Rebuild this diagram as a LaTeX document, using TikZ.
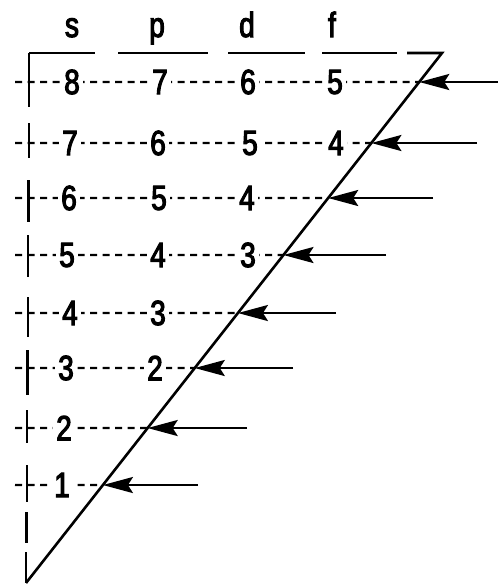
\documentclass[tikz,border=0pt]{standalone}
\usepackage{fontspec}
\setmainfont{Liberation Sans}
\newfontfamily\diagfont[FakeStretch=0.8,FakeBold=3]{Liberation Sans}
\usetikzlibrary{arrows.meta,calc}
\begin{document}
\begin{tikzpicture}[x=1pt,y=-1pt,
  num/.style={font=\diagfont\fontsize{35}{35}\selectfont, fill=white, inner sep=3pt, anchor=center},
  head/.style={font=\diagfont\fontsize{35}{35}\selectfont, inner sep=0pt, anchor=base},
  frame/.style={line width=2.6pt},
  rowline/.style={line width=2.2pt, dash pattern=on 7pt off 5.5pt},
  arr/.style={line width=2.4pt, -{Stealth[length=30pt,width=16pt,inset=5pt]}}]
\useasboundingbox (0,0) rectangle (498,587);
% frame points
\coordinate (TL) at (29,53);
\coordinate (top) at (442,53);
\coordinate (bot) at (26,583);
% header
\node[head] (hs) at (72,37) {s};
\node[head] (hp) at (157,37) {p};
\node[head] (hd) at (247,37) {d};
\node[head] (hf) at (332,37) {f};
\draw[frame] (TL) -- (95,53);
\draw[frame] (118,53) -- (208,53);
\draw[frame] (228,53) -- (305,53);
\draw[frame] (322,53) -- (397,53);
\draw[frame] (407,53) -- (top) -- (bot);
% rows
\foreach \r/\ry in {8/82,7/143,6/198,5/255,4/313,3/368,2/428,1/485}{
  \coordinate (L\r) at (15,\ry);
  \coordinate (R\r) at (500,\ry);
  \coordinate (T\r) at (intersection of top--bot and L\r--R\r);
  \draw[rowline] (L\r) -- (T\r);
}
% numbers
\node[num] (n8s) at (72,82) {8};
\node[num] (n8p) at (160,82) {7};
\node[num] (n8d) at (248,82) {6};
\node[num] (n8f) at (335,82) {5};
\node[num] (n7s) at (70,143) {7};
\node[num] (n7p) at (158,143) {6};
\node[num] (n7d) at (250,143) {5};
\node[num] (n7f) at (336,143) {4};
\node[num] (n6s) at (69,198) {6};
\node[num] (n6p) at (159,198) {5};
\node[num] (n6d) at (247,198) {4};
\node[num] (n5s) at (67,255) {5};
\node[num] (n5p) at (158,255) {4};
\node[num] (n5d) at (248,255) {3};
\node[num] (n4s) at (70,313) {4};
\node[num] (n4p) at (158,313) {3};
\node[num] (n3s) at (66,368) {3};
\node[num] (n3p) at (155,368) {2};
\node[num] (n2s) at (64,428) {2};
\node[num] (n1s) at (62,485) {1};
% left vertical, broken
\draw[frame] (TL) -- (29,107);
\draw[frame] (29,123) -- (29,158);
\draw[frame] (28.5,180) -- (28.5,222);
\draw[frame] (28,235) -- (28,277);
\draw[frame] (28,297) -- (28,337);
\draw[frame] (27.5,350) -- (27.5,395);
\draw[frame] (27,410) -- (27,443);
\draw[frame] (27,465) -- (27,502);
\draw[frame] (26.5,512) -- (26.5,543);
\draw[frame] (26,552) -- (bot);
% arrows
\foreach \r/\ax in {8/512,7/477,6/433,5/386,4/336,3/293,2/247,1/198}{
  \path let \p1=(T\r) in coordinate (A\r) at (\ax,\y1);
  \draw[arr] (A\r) -- (T\r);
}
\end{tikzpicture}
\end{document}
